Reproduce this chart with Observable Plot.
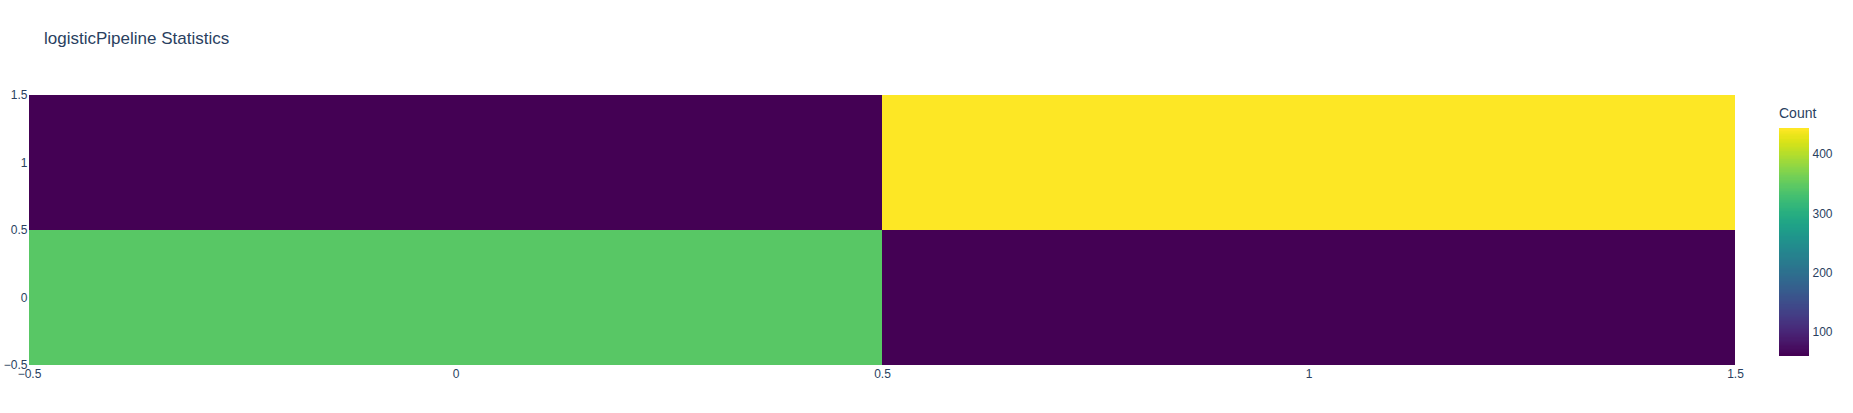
<!DOCTYPE html>
<html>
<head>
<meta charset="utf-8">
<script src="https://cdn.jsdelivr.net/npm/d3@7"></script>
<script src="https://cdn.jsdelivr.net/npm/@observablehq/plot@0.6"></script>
<style>
  body { margin: 0; background: #fff; font-family: "Liberation Sans", Arial, sans-serif; }
  #wrap { position: relative; width: 1853px; height: 413px; overflow: hidden; }
  #title { position: absolute; left: 44px; top: 29px; font-size: 17px; line-height: 20px; color: #2a3f5f; white-space: nowrap; }
  #cbtitle { position: absolute; left: 1779px; top: 105px; font-size: 14px; line-height: 16px; color: #2a3f5f; }
  #main { position: absolute; left: 0; top: 0; width: 1853px; }
  #cb { position: absolute; left: 1779px; top: 128px; width: 74px; }
  svg { overflow: visible; }
</style>
</head>
<body>
<div id="wrap">
  <div id="main"></div>
  <div id="cb"></div>
  <div id="title">logisticPipeline Statistics</div>
  <div id="cbtitle">Count</div>
</div>
<script>
const xCats = [0, 1, 0, 1];
const yCats = [0, 0, 1, 1];
const counts = [345, 62, 61, 444];
const xTicks = [-0.5, 0, 0.5, 1, 1.5];
const yTicks = [-0.5, 0, 0.5, 1, 1.5];
const cbTicks = [100, 200, 300, 400];

const cells = counts.map((c, i) => ({x: xCats[i], y: yCats[i], count: c}));
const ext = d3.extent(counts);
const fmt = d => d3.format("")(d).replace("-", "\u2212");

const main = Plot.plot({
  width: 1853, height: 413,
  marginLeft: 29, marginRight: 118, marginTop: 95, marginBottom: 48,
  style: {fontFamily: "Liberation Sans, Arial, sans-serif", fontSize: "12px", color: "#2a3f5f", background: "transparent"},
  x: {domain: [-0.5, 1.5], ticks: xTicks, tickSize: 0, tickPadding: 4, label: null, tickFormat: fmt},
  y: {domain: [-0.5, 1.5], ticks: yTicks, tickSize: 0, tickPadding: 2, label: null, tickFormat: fmt},
  color: {type: "linear", scheme: "viridis", domain: ext},
  marks: [
    Plot.rect(cells, {x1: d => d.x - 0.5, x2: d => d.x + 0.5, y1: d => d.y - 0.5, y2: d => d.y + 0.5, fill: "count", shapeRendering: "crispEdges"})
  ]
});
main.style.maxWidth = "none";
document.getElementById("main").appendChild(main);

const steps = d3.range(0, 200).map(i => {
  const a = ext[0] + (ext[1] - ext[0]) * i / 200;
  const b = ext[0] + (ext[1] - ext[0]) * (i + 1) / 200;
  return {a, b, v: (a + b) / 2};
});
const cb = Plot.plot({
  width: 74, height: 227,
  marginLeft: 0, marginRight: 44, marginTop: 0, marginBottom: 0,
  style: {fontFamily: "Liberation Sans, Arial, sans-serif", fontSize: "12px", color: "#2a3f5f", background: "transparent"},
  x: {domain: [0, 1], axis: null},
  y: {domain: ext, ticks: cbTicks, axis: "right", tickSize: 0, tickPadding: 3, label: null},
  color: {type: "linear", scheme: "viridis", domain: ext},
  marks: [
    Plot.rect(steps, {x1: 0, x2: 1, y1: "a", y2: "b", fill: "v", inset: 0, insetTop: -0.5, insetBottom: -0.5, shapeRendering: "crispEdges"})
  ]
});
cb.style.maxWidth = "none";
document.getElementById("cb").appendChild(cb);
</script>
</body>
</html>
